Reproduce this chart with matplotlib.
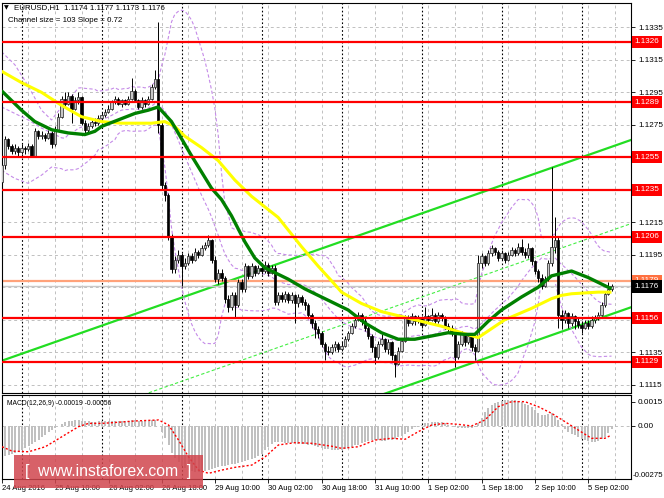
import numpy as np
import pandas as pd
import matplotlib
matplotlib.use('Agg')
import matplotlib.pyplot as plt
from matplotlib.patches import Rectangle

plt.rcParams['font.family'] = ['Liberation Sans', 'DejaVu Sans']

# prices are kept in pips above 1.1000
BASE = 1.1
PIP = 0.0001

first_open = 240
closes = [250, 266, 262, 259, 261, 258, 261, 260, 262, 256,
          271, 268, 269, 267, 270, 263, 272, 280, 291, 288,
          293, 285, 290, 292, 276, 272, 274, 277, 276, 279,
          281, 283, 285, 289, 291, 288, 290, 288, 291, 296,
          290, 286, 290, 288, 291, 298, 303, 275, 238, 232,
          206, 186, 192, 195, 188, 190, 194, 192, 197, 195,
          199, 201, 204, 192, 180, 184, 181, 168, 163, 170,
          164, 178, 174, 188, 182, 188, 184, 187, 185, 189,
          184, 187, 166, 170, 168, 171, 167, 170, 165, 169,
          166, 164, 158, 153, 149, 147, 140, 136, 135, 138,
          140, 137, 139, 143, 147, 151, 155, 158, 154, 150,
          145, 138, 132, 140, 143, 137, 141, 133, 128, 136,
          142, 156, 153, 157, 154, 156, 152, 157, 155, 158,
          154, 158, 156, 151, 150, 148, 132, 140, 146, 141,
          145, 138, 136, 190, 194, 190, 196, 199, 197, 193,
          196, 192, 195, 198, 196, 200, 197, 195, 199, 191,
          185, 181, 176, 180, 190, 200, 204, 158, 155, 159,
          153, 157, 154, 152, 150, 153, 151, 155, 156, 158,
          164, 171, 174, 176]
highs = [255, 268, 267, 263, 263, 262, 263, 262, 264, 263,
         273, 272, 271, 270, 272, 271, 274, 282, 293, 295,
         295, 294, 292, 295, 293, 278, 276, 279, 279, 281,
         283, 285, 287, 290, 293, 292, 291, 291, 293, 304,
         297, 291, 292, 291, 293, 300, 309, 338, 277, 240,
         233, 208, 194, 198, 196, 193, 196, 196, 199, 198,
         201, 203, 207, 205, 194, 186, 186, 182, 170, 172,
         172, 180, 180, 190, 189, 190, 189, 189, 189, 191,
         190, 189, 189, 172, 172, 173, 172, 172, 171, 171,
         170, 168, 165, 159, 155, 151, 148, 141, 139, 140,
         142, 141, 141, 145, 148, 153, 157, 160, 159, 156,
         151, 146, 139, 142, 146, 144, 143, 142, 134, 138,
         144, 158, 158, 159, 158, 158, 157, 163, 158, 162,
         159, 160, 159, 157, 153, 152, 149, 142, 148, 147,
         147, 146, 140, 195, 196, 195, 198, 201, 200, 198,
         198, 197, 197, 200, 199, 202, 205, 199, 202, 200,
         192, 186, 183, 182, 192, 249, 218, 206, 161, 161,
         160, 159, 158, 156, 154, 155, 155, 157, 158, 160,
         166, 173, 178, 177]
lows = [238, 248, 260, 257, 257, 256, 257, 257, 259, 255,
        255, 266, 266, 265, 266, 261, 262, 271, 279, 286,
        287, 276, 284, 288, 275, 270, 270, 273, 274, 275,
        278, 280, 282, 284, 288, 287, 286, 287, 287, 290,
        289, 285, 285, 286, 287, 290, 297, 270, 235, 228,
        204, 184, 184, 190, 176, 186, 189, 190, 191, 193,
        194, 198, 200, 190, 178, 177, 179, 165, 160, 161,
        156, 163, 172, 172, 180, 181, 182, 183, 183, 184,
        182, 183, 164, 164, 166, 166, 165, 165, 153, 163,
        164, 161, 156, 150, 144, 144, 138, 130, 133, 134,
        136, 135, 136, 138, 142, 146, 150, 154, 152, 148,
        143, 135, 128, 131, 139, 135, 134, 130, 120, 127,
        135, 141, 151, 152, 152, 153, 150, 151, 153, 154,
        152, 153, 154, 149, 147, 145, 126, 131, 139, 139,
        140, 136, 130, 135, 187, 188, 189, 194, 195, 191,
        192, 190, 191, 194, 194, 195, 195, 193, 193, 189,
        183, 178, 174, 175, 179, 188, 196, 150, 149, 153,
        150, 151, 149, 150, 147, 149, 149, 150, 153, 155,
        157, 163, 170, 173]

# moving averages (bar index, pips)
green_bars = [0, 3, 6, 10, 15, 20, 25, 28, 30, 35, 40, 44, 47, 51, 57, 63, 66, 69,
              73, 76, 79, 82, 86, 91, 98, 104, 109, 114, 119, 124, 129, 134, 139,
              142, 146, 150, 156, 161, 165, 171, 176, 181, 183]
green_pips = [296, 290, 284, 277, 272, 270, 269, 271, 274, 278, 282, 284, 286, 277,
              256, 236, 229, 219, 203, 193, 187, 184, 180, 174, 167, 161, 153, 147,
              143, 143, 145, 147, 146, 146, 154, 161, 169, 175, 182, 185, 181, 176, 174]
yellow_bars = [0, 6, 12, 18, 24, 30, 36, 40, 45, 49, 52, 55, 60, 65, 70, 75, 83, 90,
               95, 99, 102, 108, 114, 120, 126, 132, 138, 143, 151, 159, 165, 168,
               171, 179, 183]
yellow_pips = [308, 301, 295, 287, 280, 277, 276, 276, 276, 277, 274, 268, 261, 253,
               241, 231, 218, 200, 188, 179, 172, 165, 160, 157, 154, 151, 147, 144,
               155, 162, 168, 170, 171, 172, 172]

# Bollinger bands before 20 bars of history are visible
bb_early_bars = [0, 4, 8, 12, 15, 18]
bb_early_upper = [320, 312, 299, 284, 278, 286]
bb_early_mid = [286, 282, 278, 273, 270, 267]
bb_early_lower = [247, 242, 239, 244, 249, 248]

levels = [1.1326, 1.1289, 1.1255, 1.1235, 1.1206, 1.1156, 1.1129]
level_orange = 1.1179
last_price = 1.1176

channel_start = 1.11297   # upper channel line at bar 0
channel_slope = 0.72      # pips per bar
channel_size = 103        # pips

# MACD in units of 0.00001
macd_hist = [-190, -185, -178, -172, -166, -160, -150, -138, -125, -112,
             -98, -84, -70, -55, -40, -26, -10, 2, 14, 22,
             28, 33, 36, 37, 33, 30, 28, 27, 27, 28,
             29, 30, 31, 32, 33, 33, 33, 32, 33, 35,
             34, 32, 32, 31, 32, 34, 37, 0, -40, -75,
             -120, -165, -195, -222, -245, -262, -272, -278, -282, -283,
             -282, -278, -272, -265, -258, -252, -248, -244, -240, -236,
             -232, -226, -220, -215, -210, -204, -195, -185, -170, -150,
             -130, -110, -97, -98, -100, -102, -104, -106, -108, -110,
             -112, -114, -116, -118, -122, -128, -134, -140, -145, -148,
             -150, -150, -148, -142, -135, -128, -120, -115, -108, -100,
             -94, -88, -87, -88, -90, -90, -88, -87, -80, -70,
             -62, -50, -35, -20, -8, 0, 8, 16, 20, 22,
             23, 23, 22, 16, 8, 0, -8, -10, -12, -14,
             -15, -14, -8, 16, 50, 85, 110, 128, 140, 150,
             157, 161, 162, 160, 158, 155, 148, 138, 128, 115,
             98, 80, 68, 65, 72, 78, 60, 37, 10, -20,
             -35, -48, -58, -68, -78, -87, -92, -96, -97, -92,
             -80, -66, -45, -19]
sig_bars = [0, 3, 8, 13, 18, 23, 26, 30, 35, 40, 47, 50, 53, 56, 59, 62, 66, 70, 75,
            79, 83, 88, 93, 99, 102, 107, 112, 117, 121, 125, 129, 133, 137, 141,
            145, 149, 153, 157, 161, 165, 169, 173, 177, 181, 183]
sig_vals = [-128, -155, -159, -128, -66, -4, 16, 16, 23, 31, 37, 6, -87, -190, -272,
            -292, -272, -255, -241, -190, -117, -103, -107, -125, -138, -128, -87,
            -76, -82, -35, 6, 16, 10, 0, 37, 119, 150, 150, 119, 78, 27, -25, -76,
            -76, -56]

time_ticks = [0, 16, 32, 48, 64, 80, 96, 112, 128, 144, 160, 176]
time_labels = ['24 Aug 2016', '25 Aug 10:00', '26 Aug 02:00', '26 Aug 18:00',
               '29 Aug 10:00', '30 Aug 02:00', '30 Aug 18:00', '31 Aug 10:00',
               '1 Sep 02:00', '1 Sep 18:00', '2 Sep 10:00', '5 Sep 02:00']
day_starts = [6, 30, 54, 78, 102, 126, 150, 174]


def px(p):
    return BASE + np.asarray(p, dtype=float) * PIP


c = np.array(closes, dtype=float)
o = np.concatenate([[first_open], c[:-1]])
h = np.maximum(np.array(highs, dtype=float), np.maximum(o, c))
l = np.minimum(np.array(lows, dtype=float), np.minimum(o, c))
bars = np.arange(len(c))

cs = pd.Series(c)
mid = cs.rolling(20).mean()
sd = cs.rolling(20).std(ddof=0)
bb_x = list(bb_early_bars) + list(bars[19:])
bb_up = list(bb_early_upper) + list((mid + 2 * sd)[19:])
bb_mid = list(bb_early_mid) + list(mid[19:])
bb_lo = list(bb_early_lower) + list((mid - 2 * sd)[19:])

W, H = 664, 498
fig = plt.figure(figsize=(W / 100, H / 100), dpi=100)


def box(x0, y0, x1, y1):
    return [x0 / W, 1 - y1 / H, (x1 - x0) / W, (y1 - y0) / H]


ax = fig.add_axes(box(2, 3, 631, 393))
ax2 = fig.add_axes(box(2, 395, 631, 479))
xlim = (0.15, 188.85)
FS = 5.9

grid_kw = dict(color='#c0c0c0', lw=0.7, ls=(0, (3, 3)), zorder=0.5)
for a in (ax, ax2):
    a.set_xlim(*xlim)
    for gx in range(0, 190, 8):
        a.axvline(gx, **grid_kw)
    for d in day_starts:
        a.axvline(d, color='black', lw=0.8, ls=(0, (1.5, 2)), zorder=0.6)
    for s in a.spines.values():
        s.set_linewidth(0.8)

# main price panel
ax.set_ylim(1.11099, 1.13500)
yt = np.round(np.arange(1.1115, 1.1336, 0.0020), 4)
hidden = {1.1255, 1.1235, 1.1175, 1.1155}   # covered by the level boxes
ax.set_yticks(yt)
ax.set_yticklabels(['' if v in hidden else f'{v:.4f}' for v in yt])
for v in yt:
    ax.axhline(v, **grid_kw)
ax.yaxis.tick_right()
ax.tick_params(axis='y', labelsize=FS, length=3, width=0.6, pad=2)
ax.set_xticks([])

ch_x = np.array(xlim)
ch_up = channel_start + channel_slope * PIP * ch_x
ax.plot(ch_x, ch_up, color='#22dd22', lw=1.6, zorder=2)
ax.plot(ch_x, ch_up - channel_size * PIP, color='#22dd22', lw=1.6, zorder=2)
ax.plot(ch_x, ch_up - channel_size / 2 * PIP, color='#44ee44', lw=0.8,
        ls=(0, (3, 2)), zorder=2)

bb_kw = dict(color='#c58be8', lw=0.8, ls=(0, (3, 2)), zorder=2.2)
ax.plot(bb_x, px(bb_up), **bb_kw)
ax.plot(bb_x, px(bb_mid), **bb_kw)
ax.plot(bb_x, px(bb_lo), **bb_kw)

# candles
ax.vlines(bars, px(l), px(h), color='black', lw=0.7, zorder=3)
up = c >= o
body_lo = px(np.minimum(o, c))
body_h = np.maximum(np.abs(c - o), 0.4) * PIP
ax.bar(bars[up], body_h[up], bottom=body_lo[up], width=0.65, color='#c8c8c8',
       edgecolor='#202020', linewidth=0.5, zorder=3.1)
ax.bar(bars[~up], body_h[~up], bottom=body_lo[~up], width=0.65, color='black',
       edgecolor='black', linewidth=0.5, zorder=3.1)

ax.plot(yellow_bars, px(yellow_pips), color='#ffff00', lw=2.2, zorder=3.5,
        solid_capstyle='butt')
ax.plot(green_bars, px(green_pips), color='#008000', lw=2.4, zorder=3.6,
        solid_capstyle='butt')

ax.axhline(last_price, color='#c8c8c8', lw=1.0, zorder=2.4)
ax.axhline(level_orange, color='#ffa27a', lw=1.6, zorder=2.5)
for lv in levels:
    ax.axhline(lv, color='#ff0000', lw=1.6, zorder=4)

ytr = ax.get_yaxis_transform()
lab_kw = dict(transform=ytr, fontsize=FS, va='center', ha='left', clip_on=False,
              color='white')
box_pad = 'square,pad=0.32'
for lv in levels:
    ax.text(1.006, lv, f'{lv:.4f}', zorder=10,
            bbox=dict(boxstyle=box_pad, fc='#ff0000', ec='none'), **lab_kw)
ax.text(1.006, level_orange, f'{level_orange:.4f}', zorder=10,
        bbox=dict(boxstyle=box_pad, fc='#ff7040', ec='none'), **lab_kw)
ax.text(1.006, last_price - 0.00006, f'{last_price:.4f}', zorder=11,
        bbox=dict(boxstyle=box_pad, fc='black', ec='none'), **lab_kw)

# MACD panel
ax2.set_ylim(-0.00327, 0.00191)
ax2.bar(bars, np.array(macd_hist) * 1e-5, width=0.6, color='#c0c0c0', zorder=2)
ax2.plot(sig_bars, np.array(sig_vals) * 1e-5, color='#ff0000', lw=1.0,
         ls=(0, (1.5, 1.5)), zorder=3)
ax2.axhline(0, **grid_kw)
ax2.yaxis.tick_right()
ax2.set_yticks([0.0015, 0.0])
ax2.set_yticklabels(['0.0015', '0.00'])
ax2.tick_params(axis='y', labelsize=FS, length=3, width=0.6, pad=2)
ax2.text(1.003, 0.04, '-0.00275', transform=ax2.transAxes, fontsize=5.6,
         va='center', ha='left', clip_on=False)
ax2.set_xticks(time_ticks)
ax2.set_xticklabels(time_labels, ha='left', fontsize=5.5)
ax2.tick_params(axis='x', length=3, width=0.6, pad=1.5)
ax2.text(5 / 629, 0.9, 'MACD(12,26,9) -0.00019 -0.00056', transform=ax2.transAxes,
         fontsize=4.9, va='center', ha='left')

# header
fig.text(4 / W, 1 - 8 / H, '\u25bc', fontsize=4.5, va='center', ha='left',
         family=['DejaVu Sans'])
fig.text(14 / W, 1 - 8 / H, 'EURUSD,H1  1.1174 1.1177 1.1173 1.1176', fontsize=5.7,
         va='center', ha='left')
fig.text(8 / W, 1 - 20 / H, 'Channel size = 103 Slope = 0.72', fontsize=5.7,
         va='center', ha='left')

# watermark
fig.add_artist(Rectangle((14 / W, 1 - 488 / H), 189 / W, 33 / H,
                         transform=fig.transFigure, facecolor=(0.82, 0.27, 0.30),
                         alpha=0.85, edgecolor='none', zorder=20))
fig.text(108 / W, 1 - 471 / H, '[  www.instaforex.com  ]', color='white',
         fontsize=11.3, ha='center', va='center', zorder=21)

fig.savefig('out.png', dpi=100)
